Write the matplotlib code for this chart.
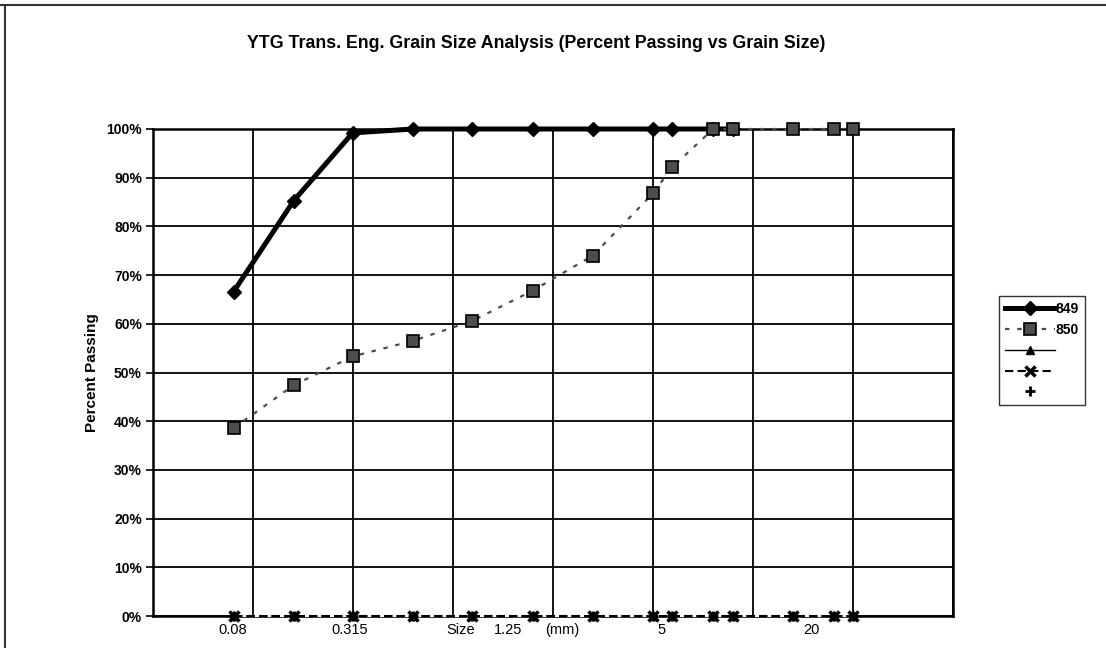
import numpy as np
import matplotlib
matplotlib.use("Agg")
import matplotlib.pyplot as plt
from matplotlib.ticker import PercentFormatter, FixedLocator, NullLocator
from matplotlib.lines import Line2D

plt.rcParams["font.family"] = ["Liberation Sans", "DejaVu Sans"]

# sieve sizes (mm) and percent passing
sizes = [0.08, 0.16, 0.315, 0.63, 1.25, 2.5, 5, 10, 12.5, 20, 25, 50, 80, 100]
pass_849 = [66.6, 85.3, 99.2, 100, 100, 100, 100, 100, 100, 100, 100]
pass_850 = [38.6, 47.4, 53.3, 56.5, 60.6, 66.8, 74.0, 86.8, 92.2, 100, 100, 100, 100, 100]
pass_s3 = [0] * len(sizes)
pass_s4 = [0] * len(sizes)
pass_s5 = [0] * len(sizes)

# hand placed axis labels (axes fraction, as in the original sheet)
xlabels = ["0.08", "0.315", "Size", "1.25", "(mm)", "5", "20"]
xlabel_pos = [0.100, 0.246, 0.384, 0.444, 0.511, 0.636, 0.823]

fig = plt.figure(figsize=(11.06, 6.48), dpi=100)
ax = fig.add_axes([153 / 1106, 32 / 648, 800 / 1106, 487 / 648])

ax.set_xscale("log")
ax.set_xlim(10 ** -1.5, 10 ** 2.5)
ax.set_ylim(0, 100)

ax.plot(sizes[:len(pass_849)], pass_849, color="black", lw=3.6, marker="D",
        markersize=7, markerfacecolor="black", markeredgecolor="black",
        zorder=5, clip_on=False, label="849")
ax.plot(sizes, pass_850, color="0.3", lw=1.6, ls=(0, (2, 3.5)), marker="s",
        markersize=8, markerfacecolor="0.3", markeredgecolor="black",
        markeredgewidth=1.2, zorder=6, clip_on=False, label="850")
ax.plot(sizes, pass_s3, color="black", lw=1.0, marker="^", markersize=6,
        zorder=3, clip_on=False, label=" ")
ax.plot(sizes, pass_s4, color="black", lw=1.5, ls=(0, (4, 2)), gapcolor="white",
        marker="x", markersize=7, markeredgewidth=2.5, zorder=4, clip_on=False,
        label=" ")
ax.plot(sizes, pass_s5, color="black", ls="none", marker="+", markersize=7,
        markeredgewidth=2, zorder=4, clip_on=False, label=" ")

# grid
ax.xaxis.set_major_locator(FixedLocator(10 ** np.arange(-1.0, 2.6, 0.5)))
ax.xaxis.set_minor_locator(NullLocator())
ax.set_xticklabels([])
ax.tick_params(axis="x", length=0)
ax.set_yticks(np.arange(0, 101, 10))
ax.yaxis.set_major_formatter(PercentFormatter(100, decimals=0))
ax.tick_params(axis="y", direction="out", length=5, width=1.2, labelsize=10, pad=3)
for lab in ax.get_yticklabels():
    lab.set_fontweight("bold")
ax.grid(True, color="black", lw=1.3)
for sp in ax.spines.values():
    sp.set_linewidth(1.8)
    sp.set_zorder(2)

for txt, xp in zip(xlabels, xlabel_pos):
    ax.text(xp, -0.015, txt, transform=ax.transAxes, ha="center", va="top", fontsize=10.5)

ax.set_ylabel("Percent Passing", fontsize=11, fontweight="bold", labelpad=5)

fig.text(536 / 1106, 1 - 44 / 648, "YTG Trans. Eng. Grain Size Analysis (Percent Passing vs Grain Size)",
         ha="center", va="center", fontsize=12.8, fontweight="bold")

handles, labels = ax.get_legend_handles_labels()
leg = ax.legend(handles, labels, loc="upper left", bbox_to_anchor=(999 / 1106, 1 - 296 / 648),
                bbox_transform=fig.transFigure, frameon=True, fancybox=False,
                edgecolor="black", handlelength=3.6, handletextpad=0.1,
                borderpad=0.4, labelspacing=0.5, borderaxespad=0,
                prop={"weight": "bold", "size": 10})
leg.get_frame().set_linewidth(1.0)

# outer chart frame (scan shows top and left edge)
fig.add_artist(Line2D([0, 1], [1 - 5 / 648, 1 - 5 / 648], transform=fig.transFigure, color="0.2", lw=1.5))
fig.add_artist(Line2D([5 / 1106, 5 / 1106], [0, 1 - 5 / 648], transform=fig.transFigure, color="0.2", lw=1.5))

fig.savefig("out.png", dpi=100)
